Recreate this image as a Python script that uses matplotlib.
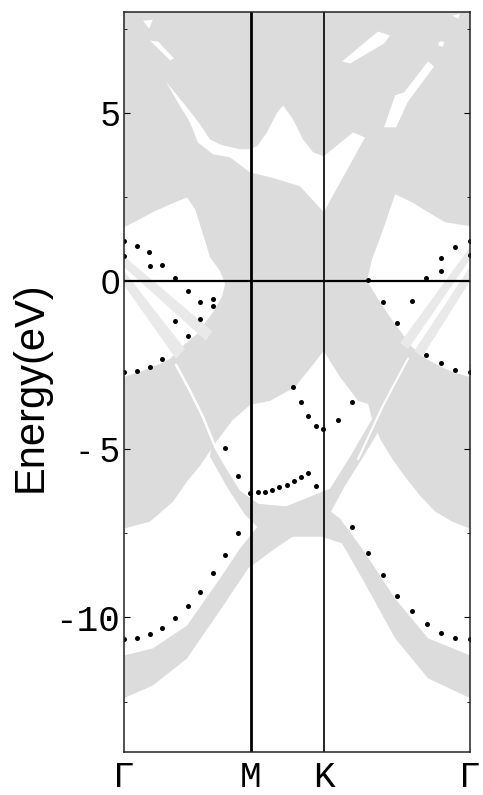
import numpy as np
import matplotlib.pyplot as plt
from matplotlib.patches import Polygon

# path through the surface Brillouin zone
k_labels = ['Γ', 'M', 'K', 'Γ']
k_points = [0.0, 0.866, 1.366, 2.366]
e_ticks = [-10, -5, 0, 5]
e_tick_labels = ['-10', '- 5', '0', '5']

# projected bulk continuum (k, E in eV)
bulk_main = [(0, 8.0), (2.366, 8.0), (2.366, -7.36), (2.244, -7.15), (2.127, -6.85),
             (2.025, -6.38), (1.922, -5.82), (1.833, -5.28), (1.751, -4.69), (1.696, -4.10),
             (1.669, -3.65), (1.601, -3.56), (1.477, -2.85), (1.366, -2.08), (1.170, -3.15),
             (0.999, -3.56), (0.862, -3.68), (0.739, -4.15), (0.622, -4.84), (0.520, -5.49),
             (0.431, -5.96), (0.335, -6.56), (0.178, -7.15), (0, -7.36)]

band_a = [(0, -11.13), (0.198, -10.92), (0.431, -10.24), (0.657, -8.84), (0.793, -7.95),
          (0.930, -7.21), (1.101, -6.71), (1.272, -6.41), (1.409, -6.17), (1.546, -5.22),
          (1.696, -4.10), (1.888, -2.76), (2.093, -1.28), (2.366, 0.59), (2.366, -0.09),
          (2.161, -1.48), (1.956, -2.97), (1.785, -4.15), (1.628, -5.28), (1.512, -6.08),
          (1.409, -6.91), (1.204, -7.45), (1.033, -7.95), (0.848, -8.55), (0.657, -9.79),
          (0.431, -11.22), (0.198, -12.02), (0, -12.40)]

band_b = [(0.602, -4.84), (0.691, -5.52), (0.793, -6.23), (0.917, -6.62), (1.135, -6.71),
          (1.354, -6.65), (1.477, -7.06), (1.628, -7.95), (1.854, -9.44), (2.079, -10.62),
          (2.366, -11.13), (2.366, -12.40), (2.079, -11.81), (1.854, -10.62), (1.628, -8.84),
          (1.491, -7.80), (1.354, -7.60), (1.135, -7.60), (0.944, -7.45), (0.828, -6.95),
          (0.711, -6.17), (0.588, -5.22)]

# gaps inside the continuum
gap_left = [(0, 1.60), (0.109, 1.84), (0.198, 2.05), (0.315, 2.28), (0.431, 2.49),
            (0.486, 2.14), (0.540, 1.40), (0.588, 0.71), (0.657, 0.30), (0.691, -0.09),
            (0.670, -0.47), (0.609, -0.92), (0.499, -1.57), (0.417, -1.87), (0.315, -2.31),
            (0.246, -2.46), (0.109, -2.70), (0, -2.85)]

gap_right = [(2.366, 1.63), (2.196, 1.75), (2.079, 2.05), (1.970, 2.34), (1.854, 2.58),
             (1.772, 1.54), (1.696, 0.65), (1.662, 0), (1.737, -0.53), (1.819, -1.07),
             (1.888, -1.48), (1.970, -1.96), (2.066, -2.31), (2.168, -2.55), (2.264, -2.73),
             (2.366, -2.85)]

gap_upper = [(0.287, 5.93), (0.431, 5.16), (0.520, 4.66), (0.588, 4.21), (0.670, 4.04),
             (0.793, 3.92), (0.862, 3.92), (0.910, 4.01), (0.978, 4.42), (1.047, 5.01),
             (1.088, 5.22), (1.156, 4.81), (1.224, 4.21), (1.293, 3.83), (1.366, 3.71),
             (1.566, 4.42), (1.648, 4.27), (1.366, 2.05), (1.204, 2.82), (0.999, 3.09),
             (0.862, 3.23), (0.725, 3.68), (0.609, 3.77), (0.506, 4.12), (0.451, 4.72),
             (0.356, 5.40)]

gap_slivers = [
    [(0.130, 7.74), (0.198, 7.77), (0.171, 7.51)],
    [(0.178, 7.15), (0.233, 7.12), (0.342, 6.62), (0.315, 6.56)],
    [(1.491, 6.53), (1.737, 7.42), (1.819, 7.30), (1.778, 7.06), (1.546, 6.47)],
    [(1.778, 4.57), (1.860, 4.57), (1.943, 5.34), (2.120, 6.38), (2.079, 6.53),
     (1.915, 5.61), (1.854, 5.52)],
    [(2.155, 7.12), (2.189, 7.12), (2.182, 6.97), (2.148, 7.00)],
    [(2.244, 7.89), (2.298, 7.95), (2.285, 7.80)],
]

# faint bulk branches running through the gaps near the Fermi level
faint_bands = [
    [(0, 0.74), (0.602, -1.48), (0.561, -1.78), (0, 0.42)],
    [(0, 0.30), (0.417, -2.02), (0.356, -2.31), (0, -0.12)],
    [(2.366, 1.01), (2.366, 0.65), (1.943, -2.02), (1.888, -1.84)],
    [(2.366, 0.42), (2.366, 0), (2.038, -2.26), (1.984, -2.08)],
]

# narrow gaps splitting the continuum along the crossing branches
split_left_k = [0.356, 0.451, 0.540, 0.615]
split_left_e = [-2.49, -3.26, -4.04, -4.84]
split_right_k = [1.943, 1.850, 1.760, 1.680, 1.600]
split_right_e = [-2.30, -3.05, -3.80, -4.55, -5.30]

# surface states
ss_gamma_k = [0, 0, 0.089, 0.171, 0.178, 0.260, 0.349, 0.438, 0.520, 0.609, 0.609,
              0.349, 0.520, 0.438, 0.260, 0.178, 0.089, 0]
ss_gamma_e = [1.19, 0.75, 1.04, 0.86, 0.45, 0.47, 0.09, -0.30, -0.62, -0.53, -0.74,
              -1.19, -1.13, -1.63, -2.31, -2.55, -2.67, -2.70]

ss_gamma2_k = [1.669, 2.066, 2.168, 2.168, 2.264, 2.366, 2.366, 1.772, 1.970, 1.867,
               2.066, 2.168, 2.264, 2.366]
ss_gamma2_e = [0.03, 0.09, 0.30, 0.68, 1.01, 1.19, 0.77, -0.62, -0.59, -1.25,
               -2.20, -2.43, -2.64, -2.70]

ss_mid_k = [1.156, 1.211, 1.259, 1.313, 1.361, 1.464, 1.560, 0.691, 0.780]
ss_mid_e = [-3.15, -3.59, -4.01, -4.30, -4.39, -4.12, -3.59, -4.96, -5.79]

ss_mk_k = [0.862, 0.917, 0.964, 1.012, 1.060, 1.115, 1.163, 1.211, 1.259, 1.313]
ss_mk_e = [-6.29, -6.26, -6.26, -6.20, -6.11, -6.05, -5.93, -5.82, -5.70, -6.08]

ss_low_k = [0.780, 0.691, 0.609, 0.520, 0.438, 0.349, 0.260, 0.178, 0.089, 0,
            1.560, 1.669, 1.772, 1.867, 1.970, 2.073, 2.168, 2.264, 2.366]
ss_low_e = [-7.48, -8.13, -8.69, -9.23, -9.67, -10.03, -10.30, -10.50, -10.62, -10.65,
            -7.30, -8.07, -8.75, -9.35, -9.82, -10.18, -10.45, -10.62, -10.65]

gray = '#dcdcdc'
faint = '#e9e9e9'

fig = plt.figure(figsize=(4.83, 7.95), dpi=100)
ax = fig.add_axes([0.2567, 0.0541, 0.7164, 0.9308])

for poly in [bulk_main, band_a, band_b]:
    ax.add_patch(Polygon(poly, closed=True, fc=gray, ec='none', zorder=1))
for poly in [gap_left, gap_right, gap_upper] + gap_slivers:
    ax.add_patch(Polygon(poly, closed=True, fc='white', ec='none', zorder=2))
for poly in faint_bands:
    ax.add_patch(Polygon(poly, closed=True, fc=faint, ec='none', zorder=3))
ax.plot(split_left_k, split_left_e, color='white', lw=1.8, zorder=3, solid_capstyle='round')
ax.plot(split_right_k, split_right_e, color='white', lw=1.5, zorder=3, solid_capstyle='round')

ax.axhline(0, color='black', lw=1.6, zorder=4)
ax.axvline(k_points[1], color='black', lw=2.0, zorder=4)
ax.axvline(k_points[2], color='black', lw=1.2, zorder=4)

for kk, ee in [(ss_gamma_k, ss_gamma_e), (ss_gamma2_k, ss_gamma2_e), (ss_mid_k, ss_mid_e),
               (ss_mk_k, ss_mk_e), (ss_low_k, ss_low_e)]:
    ax.plot(kk, ee, 'o', color='black', ms=3.6, mew=0, zorder=5)

ax.set_xlim(k_points[0], k_points[-1])
ax.set_ylim(-14, 8)

ax.set_xticks(k_points)
ax.set_xticklabels(k_labels, fontfamily='Liberation Mono', fontsize=26)
ax.tick_params(axis='x', length=0, pad=6)

ax.set_yticks(e_ticks)
ax.set_yticklabels(e_tick_labels, fontsize=25)
for lab in ax.get_yticklabels():
    if lab.get_text() == '-10':
        lab.set_fontfamily('Liberation Mono')
        lab.set_fontsize(26)
    else:
        lab.set_fontfamily('Liberation Sans')
ax.set_yticks(np.arange(-12.5, 8, 2.5), minor=True)
ax.tick_params(axis='y', which='major', direction='in', length=4, right=True, pad=3)
ax.tick_params(axis='y', which='minor', direction='in', length=2, right=True)

for sp in ax.spines.values():
    sp.set_linewidth(1.1)
    sp.set_color('#222222')
    sp.set_zorder(6)

fig.text(0.063, 0.513, 'Energy(eV)', rotation=90, ha='center', va='center',
         fontfamily='Liberation Sans', fontsize=30)

fig.savefig('out.png', dpi=100)
